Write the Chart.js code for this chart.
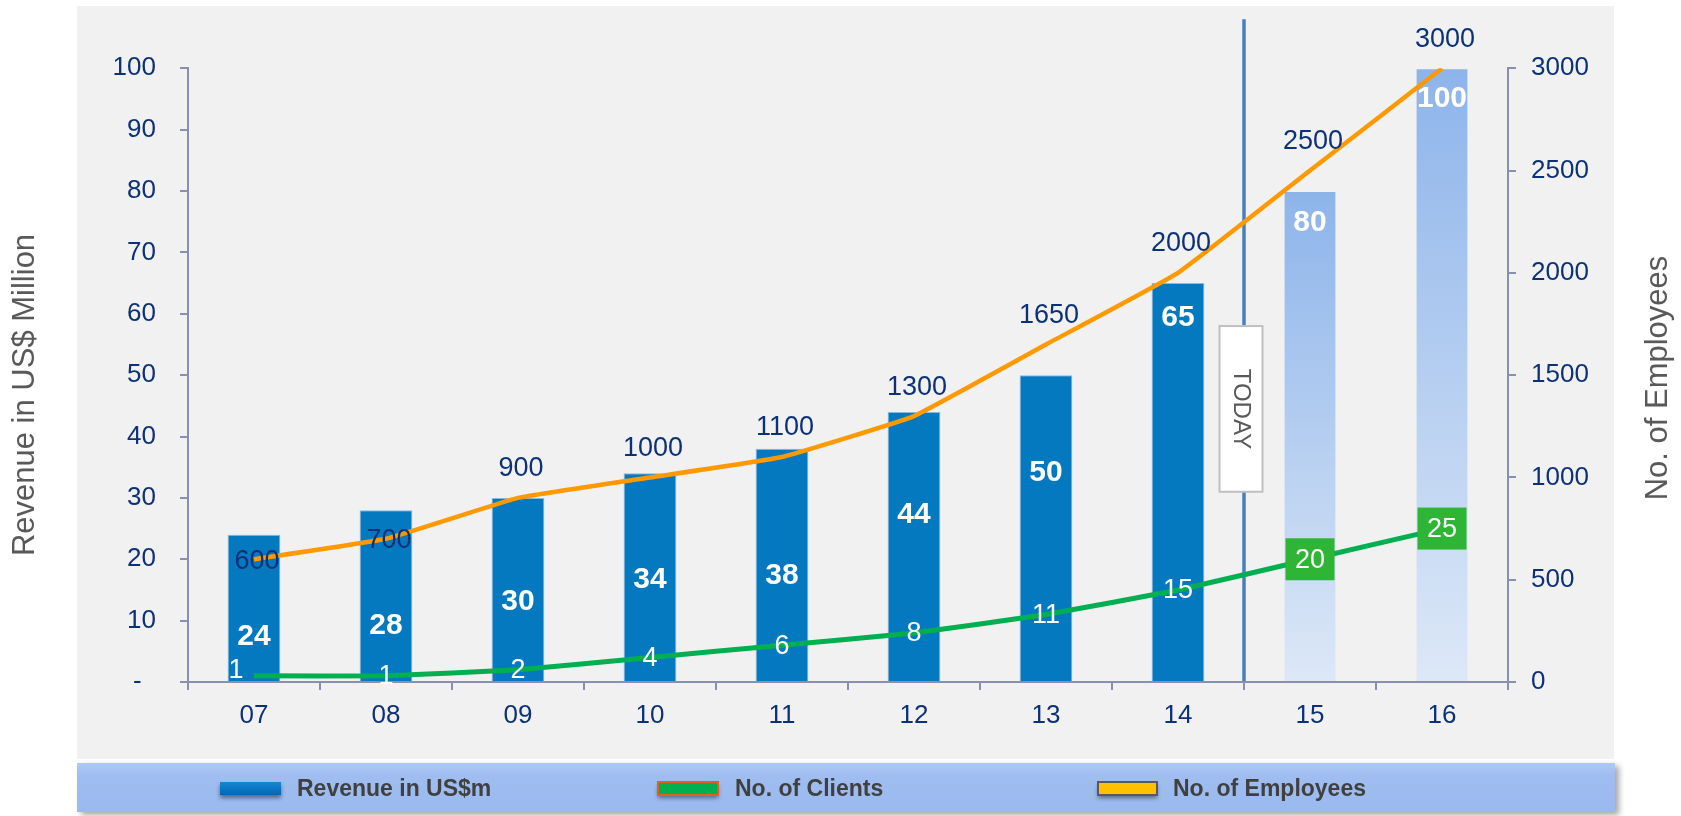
<!DOCTYPE html>
<html>
<head>
<meta charset="utf-8">
<script src="https://cdn.jsdelivr.net/npm/chart.js@4.4.1/dist/chart.umd.min.js"></script>
<style>
html,body{margin:0;padding:0;background:#fff;overflow:hidden}
#wrap{width:1681px;height:816px;position:relative}
canvas{display:block}
</style>
</head>
<body>
<div id="wrap"><canvas id="c" width="1681" height="816"></canvas></div>
<script>
// ---------- data ----------
const categories = ['07','08','09','10','11','12','13','14','15','16'];
const revenue    = [24, 28, 30, 34, 38, 44, 50, 65, 80, 100];
const clients    = [1, 1, 2, 4, 6, 8, 11, 15, 20, 25];
const employees  = [600, 700, 900, 1000, 1100, 1300, 1650, 2000, 2500, 3000];
const forecastFrom = 8;            // first projected year (index)
const todayAt = 7.5;               // between 14 and 15
const leftAxisTitle = 'Revenue in US$ Million';
const rightAxisTitle = 'No. of Employees';
const todayText = 'TODAY';
const seriesNames = ['Revenue in US$m', 'No. of Clients', 'No. of Employees'];

// label placement (in left-axis value units / flags)
const revenueLabelLevel = [7.3, 9.1, 13.0, 16.6, 17.3, 27.3, 34.1, 59.3, 74.8, 95.1];
const employeeLabelAbove = [false, false, true, true, true, true, true, true, true, true];

// ---------- styles ----------
const FONT = 'Liberation Sans, Arial, sans-serif';
const NAVY = '#0d3178';
const AXIS = '#8990ae';
const BAR_SOLID = '#0479c0';

Chart.defaults.font.family = FONT;

function barColor(ctx) {
  const i = ctx.dataIndex;
  if (i < forecastFrom) return BAR_SOLID;
  const chart = ctx.chart;
  if (!chart.chartArea) return '#a9c4ee';
  const ys = chart.scales.y;
  const top = ys.getPixelForValue(revenue[i]);
  const bottom = ys.getPixelForValue(0);
  const g = chart.ctx.createLinearGradient(0, top, 0, bottom);
  g.addColorStop(0, '#8db4ea');
  g.addColorStop(1, '#dde8f7');
  return g;
}
function barBorder(ctx) {
  return ctx.dataIndex < forecastFrom ? 'rgba(120,180,230,0.9)' : 'rgba(0,0,0,0)';
}

const decorPlugin = {
  id: 'decor',
  beforeDraw(chart) {
    const c = chart.ctx;
    c.save();
    c.fillStyle = '#ffffff';
    c.fillRect(0, 0, chart.width, chart.height);
    c.fillStyle = '#f1f1f1';
    c.fillRect(77, 6, 1537, 753);
    // legend bar with shadow
    c.save();
    c.shadowColor = 'rgba(0,0,0,0.35)';
    c.shadowBlur = 6;
    c.shadowOffsetX = 4;
    c.shadowOffsetY = 3;
    const lg = c.createLinearGradient(0, 763, 0, 812);
    lg.addColorStop(0, '#adc9f6');
    lg.addColorStop(0.25, '#9fbdf0');
    lg.addColorStop(1, '#9ab9ee');
    c.fillStyle = lg;
    c.fillRect(77, 763, 1538, 49);
    c.restore();
    c.restore();
  },
  beforeDatasetsDraw(chart) {
    const c = chart.ctx;
    const xs = chart.scales.x, ys = chart.scales.y;
    const x = xs.getPixelForValue(todayAt);
    c.save();
    c.strokeStyle = '#4a7ebb';
    c.lineWidth = 3.5;
    c.beginPath();
    c.moveTo(x, ys.getPixelForValue(108));
    c.lineTo(x, chart.chartArea.bottom - 1);
    c.stroke();
    c.restore();
  },
  afterDatasetsDraw(chart) {
    const c = chart.ctx;
    const xs = chart.scales.x, ys = chart.scales.y;
    // TODAY box
    const tx = xs.getPixelForValue(todayAt) - 3;
    const bt = ys.getPixelForValue(58), bb = ys.getPixelForValue(31);
    c.save();
    c.fillStyle = '#ffffff';
    c.strokeStyle = '#bfbfbf';
    c.lineWidth = 2;
    c.fillRect(tx - 21.5, bt, 43, bb - bt);
    c.strokeRect(tx - 21.5, bt, 43, bb - bt);
    c.translate(tx, (bt + bb) / 2);
    c.rotate(Math.PI / 2);
    c.fillStyle = '#595959';
    c.font = '24px ' + FONT;
    c.textAlign = 'center';
    c.textBaseline = 'middle';
    c.fillText(todayText, 0, 0);
    c.restore();

    const barMeta = chart.getDatasetMeta(0);
    const cliMeta = chart.getDatasetMeta(1);
    const empMeta = chart.getDatasetMeta(2);
    c.save();
    c.textAlign = 'center';
    c.textBaseline = 'middle';
    // revenue labels
    c.fillStyle = '#ffffff';
    c.font = 'bold 30px ' + FONT;
    revenue.forEach((v, i) => {
      const el = barMeta.data[i];
      c.fillText(String(v), el.x, ys.getPixelForValue(revenueLabelLevel[i]));
    });
    // employee labels
    c.fillStyle = NAVY;
    c.font = '27px ' + FONT;
    employees.forEach((v, i) => {
      const el = empMeta.data[i];
      const y = employeeLabelAbove[i] ? el.y - 29 : el.y + 2;
      c.fillText(String(v), el.x + 3, y);
    });
    // client labels
    c.font = '27px ' + FONT;
    clients.forEach((v, i) => {
      const el = cliMeta.data[i];
      if (i >= forecastFrom) {
        c.fillStyle = '#2fb536';
        c.fillRect(el.x - 24.5, el.y - 21, 49, 42);
      }
      c.fillStyle = '#ffffff';
      c.fillText(String(v), i === 0 ? el.x - 18 : el.x, i === 0 ? el.y - 5 : el.y + 1);
    });
    c.restore();
  },
  afterDraw(chart) {
    const c = chart.ctx;
    c.save();
    c.fillStyle = '#595959';
    c.font = '31px ' + FONT;
    c.textAlign = 'center';
    c.textBaseline = 'middle';
    c.save();
    c.translate(25, 395);
    c.rotate(-Math.PI / 2);
    c.fillText(leftAxisTitle, 0, 0);
    c.restore();
    c.save();
    c.translate(1658, 378);
    c.rotate(-Math.PI / 2);
    c.fillText(rightAxisTitle, 0, 0);
    c.restore();

    // legend
    const items = [
      {x: 220, w: 61, fill: 'grad', border: null, tx: 297},
      {x: 658, w: 60, fill: '#00b050', border: '#e4601a', tx: 735},
      {x: 1098, w: 59, fill: '#ffc000', border: '#595959', tx: 1173}
    ];
    items.forEach((it, k) => {
      c.save();
      c.shadowColor = 'rgba(0,0,0,0.45)';
      c.shadowBlur = 4;
      c.shadowOffsetY = 3;
      if (it.fill === 'grad') {
        const g = c.createLinearGradient(0, 782, 0, 795);
        g.addColorStop(0, '#1787d3');
        g.addColorStop(1, '#0066b3');
        c.fillStyle = g;
      } else c.fillStyle = it.fill;
      c.fillRect(it.x, 782, it.w, 13);
      c.restore();
      if (it.border) {
        c.save();
        c.strokeStyle = it.border;
        c.lineWidth = 2;
        c.strokeRect(it.x, 782, it.w, 13);
        c.restore();
      }
      c.save();
      c.fillStyle = '#404040';
      c.font = 'bold 23px ' + FONT;
      c.textAlign = 'left';
      c.textBaseline = 'middle';
      c.fillText(chart.data.datasets[k].label, it.tx, 790);
      c.restore();
    });
    c.restore();
  }
};

new Chart(document.getElementById('c'), {
  type: 'bar',
  data: {
    labels: categories,
    datasets: [
      {
        type: 'bar', label: seriesNames[0], data: revenue, yAxisID: 'y',
        backgroundColor: barColor, borderColor: barBorder, borderWidth: 1,
        categoryPercentage: 1.0, barPercentage: 0.40, order: 3
      },
      {
        type: 'line', label: seriesNames[1], data: clients, yAxisID: 'y',
        borderColor: '#00b050', borderWidth: 5, pointRadius: 0, tension: 0.12,
        fill: false, order: 1
      },
      {
        type: 'line', label: seriesNames[2], data: employees, yAxisID: 'y1',
        borderColor: '#ff9900', borderWidth: 4.5, pointRadius: 0, tension: 0.1,
        fill: false, order: 2
      }
    ]
  },
  options: {
    responsive: false,
    animation: false,
    events: [],
    devicePixelRatio: 1,
    layout: { padding: { top: 68.3, left: 0, right: 0, bottom: 0 } },
    plugins: { legend: { display: false }, tooltip: { enabled: false } },
    scales: {
      x: {
        type: 'category', offset: true,
        grid: { offset: true, drawOnChartArea: false, drawTicks: true, tickLength: 8, color: AXIS, lineWidth: 2 },
        border: { display: true, color: AXIS, width: 2 },
        ticks: { color: NAVY, font: { size: 26 }, padding: 10, maxRotation: 0, autoSkip: false },
        afterFit(s) { s.height = 134; }
      },
      y: {
        position: 'left', min: 0, max: 100,
        grid: { drawOnChartArea: false, drawTicks: true, tickLength: 8, color: AXIS, lineWidth: 2 },
        border: { display: true, color: AXIS, width: 2 },
        ticks: { stepSize: 10, color: NAVY, font: { size: 26 }, padding: 24,
          callback: v => (v === 0 ? '-  ' : String(v)) },
        afterFit(s) { s.width = 188; }
      },
      y1: {
        position: 'right', min: 0, max: 3000,
        grid: { drawOnChartArea: false, drawTicks: true, tickLength: 8, color: AXIS, lineWidth: 2 },
        border: { display: true, color: AXIS, width: 2 },
        ticks: { stepSize: 500, color: NAVY, font: { size: 26 }, padding: 15,
          callback: v => String(v) },
        afterFit(s) { s.width = 173; }
      }
    }
  },
  plugins: [decorPlugin]
});
</script>
</body>
</html>
